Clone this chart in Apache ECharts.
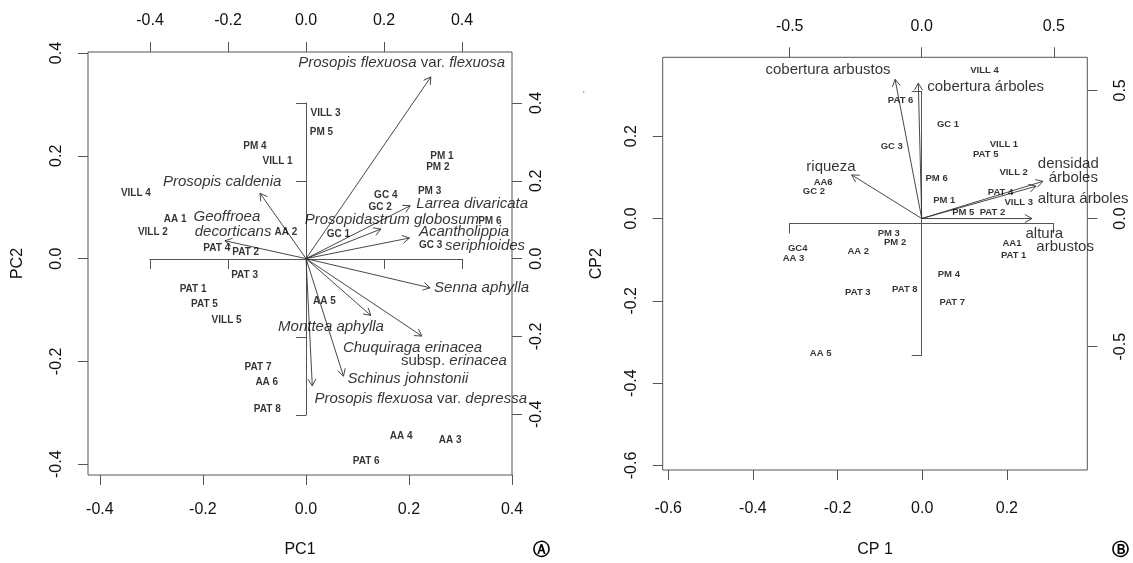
<!DOCTYPE html>
<html><head><meta charset="utf-8">
<script src="https://cdn.jsdelivr.net/npm/echarts@6/dist/echarts.min.js"></script>
<style>html,body{margin:0;padding:0;background:#fff}#c{width:1133px;height:563px}</style>
</head><body><div id="c"></div>
<script>
// ---------- Panel A: site scores ----------
const sitesA = ['VILL 3','PM 5','PM 4','VILL 1','VILL 4','AA 1','VILL 2','PAT 4','PAT 2','AA 2','PAT 3','PAT 1','PAT 5','VILL 5','PAT 7','AA 6','PAT 8','AA 5','GC 1','GC 2','GC 4','PM 3','PM 1','PM 2','PM 6','GC 3','AA 4','AA 3','PAT 6'];
const pc1A = [0.038,0.030,-0.099,-0.055,-0.330,-0.254,-0.297,-0.173,-0.117,-0.039,-0.119,-0.219,-0.197,-0.154,-0.093,-0.076,-0.075,0.036,0.063,0.144,0.155,0.240,0.264,0.256,0.357,0.242,0.185,0.280,0.117];
const pc2A = [0.283,0.246,0.218,0.189,0.128,0.076,0.052,0.021,0.012,0.052,-0.033,-0.060,-0.089,-0.120,-0.211,-0.240,-0.293,-0.083,0.048,0.100,0.124,0.132,0.199,0.177,0.072,0.026,-0.345,-0.353,-0.395];
// ---------- Panel A: species loadings ----------
const speciesA = ['Prosopis flexuosa var. flexuosa','Prosopis caldenia','Geoffroea decorticans','Larrea divaricata','Prosopidastrum globosum','Acantholippia seriphioides','Senna aphylla','Monttea aphylla','Chuquiraga erinacea subsp. erinacea','Schinus johnstonii','Prosopis flexuosa var. depressa'];
const load1A = [0.320,-0.118,-0.208,0.267,0.192,0.265,0.318,0.166,0.297,0.096,0.016];
const load2A = [0.467,0.168,0.046,0.136,0.076,0.053,-0.075,-0.146,-0.199,-0.302,-0.327];
// species label text lines and their anchors (loading units)
const labTextA = ['Prosopis flexuosa var. flexuosa','Prosopis caldenia','Geoffroea','decorticans','Larrea divaricata','Prosopidastrum globosum','Acantholippia','seriphioides','Senna aphylla','Monttea aphylla','Chuquiraga erinacea','subsp. erinacea','Schinus johnstonii','Prosopis flexuosa var. depressa'];
const labXA = [0.245,-0.215,-0.203,-0.187,0.426,0.220,0.405,0.459,0.450,0.064,0.273,0.379,0.261,0.294];
const labYA = [0.502,0.197,0.108,0.069,0.141,0.100,0.069,0.033,-0.074,-0.174,-0.229,-0.262,-0.308,-0.360];

// ---------- Panel B: site scores ----------
const sitesB = ['VILL 4','PAT 6','GC 1','GC 3','VILL 1','PAT 5','VILL 2','PM 6','PAT 4','VILL 3','PM 1','PM 5','PAT 2','AA1','PAT 1','PM 3','PM 2','AA 2','GC4','AA 3','PAT 3','PAT 8','PM 4','PAT 7','AA 5','AA6','GC 2'];
const cp1B = [0.147,-0.051,0.061,-0.072,0.193,0.150,0.216,0.034,0.185,0.228,0.052,0.097,0.166,0.212,0.216,-0.079,-0.064,-0.151,-0.294,-0.304,-0.152,-0.041,0.063,0.071,-0.240,-0.234,-0.256];
const cp2B = [0.359,0.288,0.228,0.175,0.181,0.156,0.112,0.098,0.063,0.039,0.045,0.014,0.016,-0.061,-0.089,-0.035,-0.058,-0.079,-0.072,-0.098,-0.179,-0.173,-0.136,-0.204,-0.328,0.088,0.065];
// ---------- Panel B: variable loadings ----------
const varsB = ['cobertura arbustos','cobertura árboles','riqueza','densidad árboles','altura árboles','altura arbustos'];
const load1B = [-0.101,-0.013,-0.265,0.459,0.433,0.417];
const load2B = [0.543,0.528,0.170,0.145,0.126,0.000];
const labTextB = ['cobertura arbustos','cobertura árboles','riqueza','densidad','árboles','altura árboles','altura','arbustos'];
const labXB = [-0.355,0.242,-0.344,0.555,0.574,0.611,0.464,0.543];
const labYB = [0.581,0.514,0.202,0.214,0.158,0.077,-0.061,-0.111];

// ---------- tick labels ----------
const ticksA = [-0.4,-0.2,0.0,0.2,0.4];
const ticksBx = [-0.6,-0.4,-0.2,0.0,0.2];
const ticksBy = [-0.6,-0.4,-0.2,0.0,0.2];
const ticksBload = [-0.5,0.0,0.5];

const FONT = '"Liberation Sans", Arial, Helvetica, sans-serif';
const AX = '#555';
const TXT = '#000';

function outerAxis(opts){
  const rot = opts.rot || 0;
  return {
    type:'value', gridIndex:opts.grid, position:opts.pos, min:opts.min, max:opts.max,
    splitLine:{show:false},
    axisLine:{show:false, onZero:false},
    axisTick:{show:true, length:10, customValues:opts.ticks, lineStyle:{color:AX, width:1}},
    axisLabel:{show:true, customValues:opts.ticks, margin:opts.margin||23, rotate:rot,
      fontSize:16, color:'#111', fontFamily:FONT, formatter:v=>Number(v).toFixed(1)},
    name:opts.name||'', nameLocation:'middle', nameGap:opts.nameGap||60,
    nameTextStyle:{fontSize:16, color:'#111', fontFamily:FONT},
    nameRotate: opts.nameRotate
  };
}
function innerAxis(grid, lim, step){
  return {
    type:'value', gridIndex:grid, min:-lim, max:lim, interval:step,
    splitLine:{show:false},
    axisLine:{show:true, onZero:true, lineStyle:{color:AX, width:1}},
    axisTick:{show:true, length:10, lineStyle:{color:AX, width:1}},
    axisLabel:{show:false}
  };
}

function arrows(xi, yi, xs, ys){
  return {
    type:'custom', xAxisIndex:xi, yAxisIndex:yi, clip:false, silent:true, z:5,
    data: xs.map((x,i)=>[x, ys[i]]),
    renderItem(params, api){
      const p0 = api.coord([0,0]);
      const p1 = api.coord([api.value(0), api.value(1)]);
      const ang = Math.atan2(p1[1]-p0[1], p1[0]-p0[0]);
      const L = 8, a = Math.PI/6;
      const h1 = [p1[0]-L*Math.cos(ang-a), p1[1]-L*Math.sin(ang-a)];
      const h2 = [p1[0]-L*Math.cos(ang+a), p1[1]-L*Math.sin(ang+a)];
      return {type:'group', children:[
        {type:'line', shape:{x1:p0[0],y1:p0[1],x2:p1[0],y2:p1[1]}, style:{stroke:'#333', lineWidth:0.9}},
        {type:'polyline', shape:{points:[h1,p1,h2]}, style:{stroke:'#333', fill:null, lineWidth:0.9}}
      ]};
    }
  };
}

function richify(t){
  return t.replace(/\b(var\.|subsp\.)/g, '{n|$1}');
}

function textSeries(xi, yi, names, xs, ys, lab){
  return {
    type:'scatter', xAxisIndex:xi, yAxisIndex:yi, symbol:'circle', symbolSize:1, silent:true, z:10,
    itemStyle:{color:'rgba(0,0,0,0)'}, emphasis:{disabled:true}, clip:false,
    data: names.map((n,i)=>({name:n, value:[xs[i], ys[i]]})),
    label: Object.assign({show:true, position:'inside', color:TXT, fontFamily:FONT}, lab)
  };
}

const chart = echarts.init(document.getElementById('c'), null, {renderer:'canvas'});
const option = {
  backgroundColor:'#fff',
  animation:false,
  grid:[
    {left:88, top:52, width:424, height:424, show:true, borderColor:AX, borderWidth:1, backgroundColor:'transparent'},
    {left:662.7, top:57.3, width:424.6, height:425, show:true, borderColor:AX, borderWidth:1, backgroundColor:'transparent'},
    {left:150, top:103, width:312, height:312, show:false},
    {left:789.7, top:91.3, width:264, height:264, show:false}
  ],
  xAxis:[
    outerAxis({grid:0, pos:'bottom', min:-0.423, max:0.400, ticks:ticksA, name:'PC1', nameGap:67, margin:27}),
    outerAxis({grid:0, pos:'top', min:-0.559, max:0.528, ticks:ticksA}),
    outerAxis({grid:1, pos:'bottom', min:-0.613, max:0.390, ticks:ticksBx, name:'CP 1', nameGap:72, margin:31}),
    outerAxis({grid:1, pos:'top', min:-0.981, max:0.627, ticks:ticksBload}),
    innerAxis(2, 0.4, 0.2),
    innerAxis(3, 0.5, 0.5)
  ],
  yAxis:[
    outerAxis({grid:0, pos:'left', min:-0.421, max:0.402, ticks:ticksA, rot:90, name:'PC2', nameGap:62}),
    outerAxis({grid:0, pos:'right', min:-0.556, max:0.531, ticks:ticksA, rot:90, margin:17}),
    outerAxis({grid:1, pos:'left', min:-0.611, max:0.3915, ticks:ticksBy, rot:90, name:'CP2', nameGap:58}),
    outerAxis({grid:1, pos:'right', min:-0.981, max:0.629, ticks:ticksBload, rot:90, margin:25}),
    innerAxis(2, 0.4, 0.2),
    innerAxis(3, 0.5, 0.5)
  ],
  graphic:[
    {type:'text', left:533, top:542, style:{text:'Ⓐ', fontSize:17, fontWeight:'bold', fill:TXT, fontFamily:'"DejaVu Sans", sans-serif'}},
    {type:'text', left:1112, top:542, style:{text:'Ⓑ', fontSize:17, fontWeight:'bold', fill:TXT, fontFamily:'"DejaVu Sans", sans-serif'}},
    {type:'text', left:582, top:84, style:{text:'.', fontSize:12, fill:'#888', fontFamily:FONT}}
  ],
  series:[
    arrows(1, 1, load1A, load2A),
    arrows(3, 3, load1B, load2B),
    textSeries(0, 0, sitesA, pc1A, pc2A, {fontSize:10, fontWeight:'bold', formatter:'{b}'}),
    textSeries(2, 2, sitesB, cp1B, cp2B, {fontSize:9.5, fontWeight:'bold', formatter:'{b}'}),
    textSeries(1, 1, labTextA, labXA, labYA, {fontSize:15, fontStyle:'italic',
      formatter:p=>richify(p.name), rich:{n:{fontStyle:'normal', fontSize:15, color:TXT, fontFamily:FONT}}}),
    textSeries(3, 3, labTextB, labXB, labYB, {fontSize:15, formatter:'{b}'})
  ]
};
chart.setOption(option);
</script></body></html>
